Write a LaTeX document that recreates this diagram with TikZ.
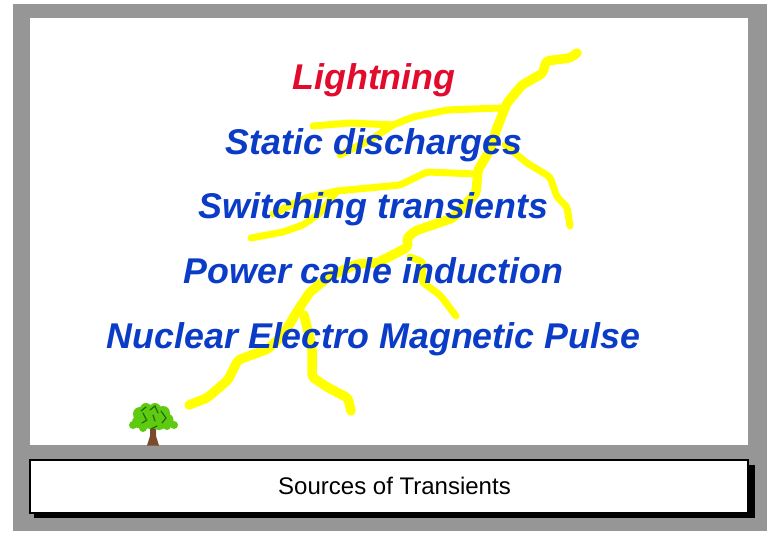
\documentclass[tikz,border=0pt]{standalone}
\usepackage{fontspec}
\setmainfont{Liberation Sans}
\definecolor{panelgray}{HTML}{969696}
\definecolor{boltyellow}{HTML}{FFFF00}
\definecolor{headred}{HTML}{E30B2D}
\definecolor{itemblue}{HTML}{0B3CC8}
\definecolor{leafgreen}{HTML}{5FCB10}
\definecolor{leafdark}{HTML}{1F6B12}
\definecolor{trunk}{HTML}{7A4B2A}
\tikzset{
  bolt/.style={draw=boltyellow,line width=9.5pt,line join=round,line cap=round,rounded corners=3pt},
  boltthin/.style={bolt,line width=7pt},
  headline/.style={font=\fontsize{35.8}{36}\selectfont\bfseries\itshape,text=headred,anchor=base,inner sep=0pt},
  itemline/.style={font=\fontsize{35.8}{36}\selectfont\bfseries\itshape,text=itemblue,anchor=base,inner sep=0pt},
}
\begin{document}
\begin{tikzpicture}[x=1pt,y=-1pt]
\useasboundingbox (0,0) rectangle (780,540);
\fill[white] (0,0) rectangle (780,540);
\fill[panelgray] (13,4) rectangle (767,531);
\fill[white] (30,18) rectangle (748,445);
% lightning
\draw[bolt] (577,53)--(570,58)--(546,61)--(543,73)--(522,85)--(507,103)--(497,128)--(490,150)--(478,170)--(476,193)--(453,218)--(415,231)--(407,238)--(408,247)--(377,263)--(357,264)--(330,276)--(310,292)--(298,310)--(283,335)--(268,349)--(238,360)--(228,380)--(207,398)--(189,405);
\draw[boltthin] (500,108)--(447,110)--(413,117)--(393,125)--(350,123)--(313,126);
\draw[boltthin] (393,125)--(370,140)--(340,155);
\draw[boltthin] (476,174)--(427,172)--(400,185)--(337,191)--(305,198)--(273,214);
\draw[boltthin] (337,191)--(320,213)--(303,225)--(283,232)--(251,238);
\draw[boltthin] (505,145)--(527,163)--(550,177)--(557,197)--(567,207)--(570,226);
\draw[boltthin] (410,257)--(423,262)--(422,282)--(440,295)--(456,316);
\draw[bolt] (304,315)--(312,347)--(312,377)--(327,387)--(348,398)--(351,411);
% text
\node[headline] (t1) at (374,90) {Lightning};
\node[itemline] (t2) at (374,154.5) {Static discharges};
\node[itemline] (t3) at (373.5,219) {Switching transients};
\node[itemline] (t4) at (373.5,284) {Power cable induction};
\node[itemline] (t5) at (373.5,348.5) {Nuclear Electro Magnetic Pulse};
% tree
\fill[trunk] (147,445.5)--(150,436)--(150,422)--(156,422)--(156,436)--(159,445.5)--cycle;
\fill[leafgreen] (133,425) circle (4) (138,422) circle (6) (140,414) circle (7) (146,409) circle (6) (155,409) circle (6) (163,413) circle (7) (167,420) circle (6.5) (174,425) circle (4) (150,418) circle (11) (159,422) circle (8) (143,428) circle (4) (167,426) circle (4);
\draw[leafdark,line width=1.2pt,line cap=round] (141,411)--(146,407) (150,410)--(155,406)--(158,413) (146,419)--(143,413) (161,411)--(166,418)--(162,423) (151,429)--(157,426) (142,423)--(147,420) (153,415)--(155,421);
% caption
\fill[black] (34,464.5) rectangle (755,518);
\node[draw=black,line width=2pt,fill=white,minimum width=718pt,minimum height=53pt,inner sep=0pt,anchor=north west] (cap) at (29,459) {};
\node[font=\fontsize{24}{24}\selectfont,inner sep=0pt] (capt) at (394.5,486) {Sources of Transients};
\end{tikzpicture}
\end{document}
